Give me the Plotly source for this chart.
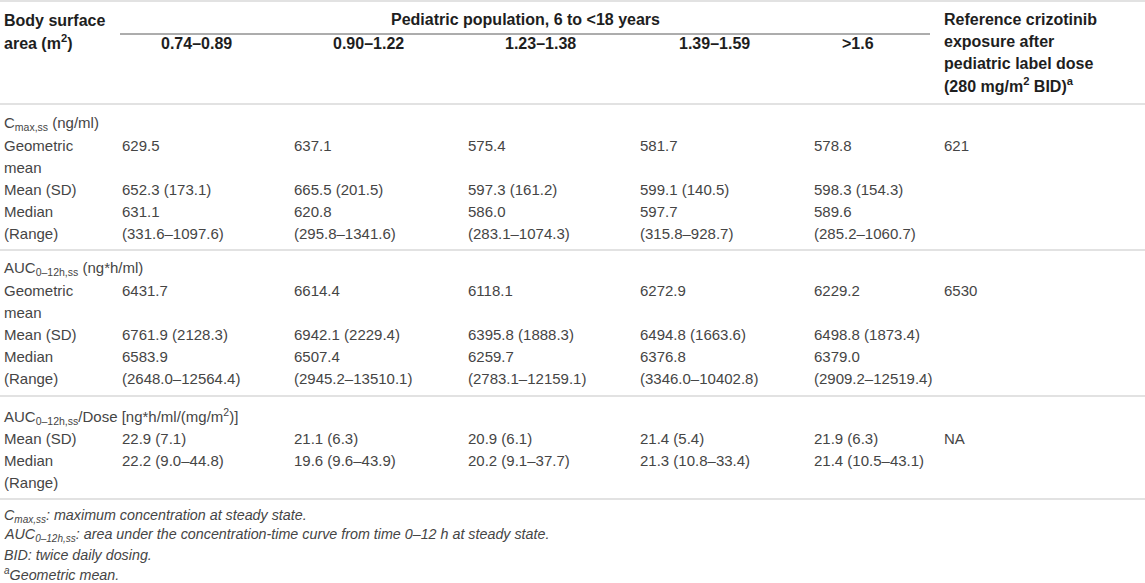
import plotly.graph_objects as go

# body surface area groups (pediatric population, 6 to <18 years)
bsa_groups = ["0.74–0.89", "0.90–1.22", "1.23–1.38", "1.39–1.59", "&gt;1.6"]

# Cmax,ss (ng/ml)
cmax_geo = [629.5, 637.1, 575.4, 581.7, 578.8]
cmax_mean = [652.3, 665.5, 597.3, 599.1, 598.3]
cmax_sd = [173.1, 201.5, 161.2, 140.5, 154.3]
cmax_median = [631.1, 620.8, 586.0, 597.7, 589.6]
cmax_min = [331.6, 295.8, 283.1, 315.8, 285.2]
cmax_max = [1097.6, 1341.6, 1074.3, 928.7, 1060.7]
cmax_ref = "621"

# AUC0-12h,ss (ng*h/ml)
auc_geo = [6431.7, 6614.4, 6118.1, 6272.9, 6229.2]
auc_mean = [6761.9, 6942.1, 6395.8, 6494.8, 6498.8]
auc_sd = [2128.3, 2229.4, 1888.3, 1663.6, 1873.4]
auc_median = [6583.9, 6507.4, 6259.7, 6376.8, 6379.0]
auc_min = [2648.0, 2945.2, 2783.1, 3346.0, 2909.2]
auc_max = [12564.4, 13510.1, 12159.1, 10402.8, 12519.4]
auc_ref = "6530"

# AUC0-12h,ss/Dose [ng*h/ml/(mg/m2)]
dose_mean = [22.9, 21.1, 20.9, 21.4, 21.9]
dose_sd = [7.1, 6.3, 6.1, 5.4, 6.3]
dose_median = [22.2, 19.6, 20.2, 21.3, 21.4]
dose_min = [9.0, 9.6, 9.1, 10.8, 10.5]
dose_max = [44.8, 43.9, 37.7, 33.4, 43.1]
dose_ref = "NA"

footnotes = [
    "<i>C<sub>max,ss</sub>: maximum concentration at steady state.</i>",
    "<i>AUC<sub>0–12h,ss</sub>: area under the concentration-time curve from time 0–12 h at steady state.</i>",
    "<i>BID: twice daily dosing.</i>",
    "<i><sup>a</sup>Geometric mean.</i>",
]

W, H = 1145, 583
FONT = "Liberation Sans"
TXT = "#454545"
HDR = "#1e1e1e"
RULE = "#e2e2e2"
BODY = 15
BOLD = 16

col_left = [120, 292, 466, 638, 812]
col_head = [196, 368, 540, 714, 858]
ref_x = 942
label_x = 2


def f1(v):
    return f"{v:.1f}"


annotations = []


def txt(x, y, s, bold=False, size=BODY, color=None, anchor="left"):
    annotations.append(dict(
        x=x, y=y, xref="x", yref="y", text=s, showarrow=False,
        xanchor=anchor, yanchor="middle",
        font=dict(family=FONT, size=size, color=color or (HDR if bold else TXT),
                  weight="bold" if bold else "normal"),
    ))


# header
txt(label_x, 20, "Body surface", bold=True, size=BOLD)
txt(label_x, 42, "area (m<sup>2</sup>)", bold=True, size=BOLD)
txt(525, 19, "Pediatric population, 6 to &lt;18 years", bold=True, size=BOLD, anchor="center")
for cx, g in zip(col_head, bsa_groups):
    txt(cx, 43, g, bold=True, size=BOLD, anchor="center")
ref_head = ["Reference crizotinib", "exposure after", "pediatric label dose",
            "(280 mg/m<sup>2</sup> BID)<sup>a</sup>"]
for i, s in enumerate(ref_head):
    txt(ref_x, 19 + 22 * i, s, bold=True, size=BOLD)


def block(y0, title, geo, mean, sd, med, lo, hi, ref, step=22):
    txt(label_x, y0, title)
    y = y0 + step
    if geo is not None:
        txt(label_x, y, "Geometric")
        txt(label_x, y + step, "mean")
        for x, v in zip(col_left, geo):
            txt(x, y, f1(v))
        txt(ref_x, y, ref)
        y += 2 * step
    txt(label_x, y, "Mean (SD)")
    for x, m, s in zip(col_left, mean, sd):
        txt(x, y, f"{f1(m)} ({f1(s)})")
    if geo is None:
        txt(ref_x, y, ref)
    y += step
    txt(label_x, y, "Median")
    txt(label_x, y + step, "(Range)")
    for x, m, a, b in zip(col_left, med, lo, hi):
        if geo is None:
            txt(x, y, f"{f1(m)} ({f1(a)}–{f1(b)})")
        else:
            txt(x, y, f1(m))
            txt(x, y + step, f"({f1(a)}–{f1(b)})")


block(123, "C<sub>max,ss</sub> (ng/ml)", cmax_geo, cmax_mean, cmax_sd,
      cmax_median, cmax_min, cmax_max, cmax_ref)
block(268, "AUC<sub>0–12h,ss</sub> (ng*h/ml)", auc_geo, auc_mean, auc_sd,
      auc_median, auc_min, auc_max, auc_ref)
block(416, "AUC<sub>0–12h,ss</sub>/Dose [ng*h/ml/(mg/m<sup>2</sup>)]", None,
      dose_mean, dose_sd, dose_median, dose_min, dose_max, dose_ref)

for i, s in enumerate(footnotes):
    txt(label_x, 516 + 19.3 * i, s, size=14.3)

shapes = []
for yy in [1, 104, 250, 396, 499]:
    shapes.append(dict(type="line", xref="x", yref="y", x0=0, x1=W, y0=yy, y1=yy,
                       line=dict(color=RULE, width=2)))
shapes.append(dict(type="line", xref="x", yref="y", x0=120, x1=930, y0=34, y1=34,
                   line=dict(color="#5a5a5a", width=1)))

fig = go.Figure()
fig.update_layout(
    width=W, height=H,
    margin=dict(l=0, r=0, t=0, b=0),
    paper_bgcolor="white", plot_bgcolor="white",
    xaxis=dict(range=[0, W], visible=False, fixedrange=True),
    yaxis=dict(range=[H, 0], visible=False, fixedrange=True),
    annotations=annotations,
    shapes=shapes,
    showlegend=False,
)
fig.write_html(
    "out.html",
    config={"displayModeBar": False},
    post_script="document.body.style.margin='0';document.body.style.overflow='hidden';",
)
